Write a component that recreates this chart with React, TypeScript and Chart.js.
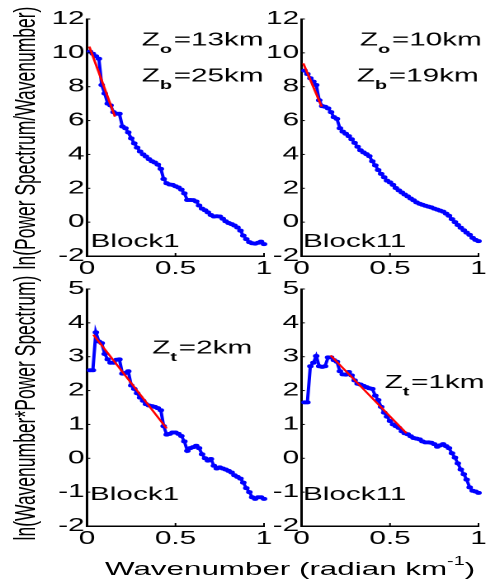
import React, { useEffect, useRef } from "react";
import { Chart, registerables } from "chart.js";

Chart.register(...registerables);

// ---------- data ----------
const WAVENUMBER = [
  0.017, 0.033, 0.05, 0.067, 0.083, 0.1, 0.117, 0.133, 0.15, 0.167,
  0.183, 0.2, 0.217, 0.233, 0.25, 0.267, 0.283, 0.3, 0.317, 0.333,
  0.35, 0.367, 0.383, 0.4, 0.417, 0.433, 0.45, 0.467, 0.483, 0.5,
  0.517, 0.533, 0.55, 0.567, 0.583, 0.6, 0.617, 0.633, 0.65, 0.667,
  0.683, 0.7, 0.717, 0.733, 0.75, 0.767, 0.783, 0.8, 0.817, 0.833,
  0.85, 0.867, 0.883, 0.9, 0.917, 0.933, 0.95, 0.967, 0.983, 1.0,
];

// ln(Power Spectrum / Wavenumber)
const TOP_BLOCK1 = [
  10.07, 9.95, 9.8, 9.65, 8.1, 7.6, 7.0, 6.9, 6.5, 6.4,
  6.4, 5.65, 5.55, 5.3, 4.95, 4.65, 4.4, 4.17, 4.0, 3.88,
  3.72, 3.6, 3.52, 3.4, 3.15, 2.55, 2.3, 2.22, 2.2, 2.12,
  2.05, 1.92, 1.7, 1.31, 1.31, 1.3, 1.22, 0.98, 0.8, 0.7,
  0.58, 0.42, 0.33, 0.35, 0.33, 0.2, 0.05, -0.05, -0.12, -0.2,
  -0.32, -0.5, -0.8, -1.0, -1.18, -1.25, -1.27, -1.22, -1.15, -1.3,
];
const TOP_BLOCK11 = [
  8.95, 8.75, 8.5, 8.3, 8.1, 7.2, 6.85, 6.82, 6.72, 6.5,
  6.2, 6.1, 5.55, 5.35, 5.22, 5.08, 4.9, 4.68, 4.45, 4.25,
  4.12, 4.02, 3.9, 3.6, 3.35, 3.08, 2.85, 2.65, 2.45, 2.35,
  2.2, 2.02, 1.88, 1.75, 1.63, 1.52, 1.4, 1.29, 1.17, 1.09,
  1.03, 0.97, 0.92, 0.87, 0.8, 0.74, 0.68, 0.62, 0.5, 0.38,
  0.18, 0.0, -0.17, -0.33, -0.48, -0.62, -0.75, -0.93, -1.05, -1.12,
];

// ln(Wavenumber * Power Spectrum)
const BOTTOM_BLOCK1 = [
  2.6, 2.6, 3.72, 3.45, 3.4, 3.08, 2.92, 2.82, 2.82, 2.91,
  2.92, 2.5, 2.52, 2.57, 2.15, 2.05, 1.92, 1.79, 1.7, 1.6,
  1.56, 1.54, 1.52, 1.48, 1.42, 0.95, 0.7, 0.72, 0.76, 0.76,
  0.72, 0.66, 0.5, 0.22, 0.3, 0.33, 0.37, 0.3, 0.12, 0.0,
  -0.07, -0.02, -0.22, -0.3, -0.27, -0.3, -0.33, -0.37, -0.42, -0.5,
  -0.55, -0.6, -0.72, -0.88, -1.0, -1.15, -1.2, -1.15, -1.15, -1.2,
];
const BOTTOM_BLOCK11 = [
  1.65, 1.65, 2.72, 2.82, 3.02, 2.72, 2.7, 2.72, 2.98, 2.98,
  2.9, 2.85, 2.57, 2.48, 2.47, 2.55, 2.45, 2.3, 2.2, 2.18,
  2.14, 2.1, 2.07, 2.05, 1.85, 1.72, 1.52, 1.35, 1.23, 1.1,
  1.0, 0.95, 0.9, 0.8, 0.74, 0.71, 0.65, 0.6, 0.58, 0.56,
  0.5, 0.47, 0.47, 0.46, 0.42, 0.34, 0.38, 0.42, 0.36, 0.3,
  0.15, 0.02, -0.15, -0.33, -0.47, -0.63, -0.86, -0.96, -0.98, -1.02,
];

// straight-line fits (red)
const FIT_TOP_BLOCK1_X = [0.013, 0.158];
const FIT_TOP_BLOCK1_Y = [10.37, 6.23];
const FIT_TOP_BLOCK11_X = [0.01, 0.114];
const FIT_TOP_BLOCK11_Y = [9.38, 6.82];
const FIT_BOTTOM_BLOCK1_X = [0.036, 0.45];
const FIT_BOTTOM_BLOCK1_Y = [3.65, 0.88];
const FIT_BOTTOM_BLOCK11_X = [0.164, 0.593];
const FIT_BOTTOM_BLOCK11_Y = [3.04, 0.74];

// ticks
const X_TICKS = [0, 0.5, 1];
const TOP_Y_TICKS = [-2, 0, 2, 4, 6, 8, 10, 12];
const BOTTOM_Y_TICKS = [-2, -1, 0, 1, 2, 3, 4, 5];

// ---------- styling / layout ----------
const STRETCH = 1.65;
const LOGICAL_W = 300;
const PAGE_H = 581;
const FONT = '"Liberation Sans", Arial, Helvetica, sans-serif';
const BLUE = "#0000ff";
const RED = "#ff0000";
const Y_AXIS_W = 40;
const X_AXIS_H = 30;

type Part = { t: string; sub?: boolean };
type Note = { x: number; y: number; parts: Part[] };

function notesPlugin(notes: Note[]) {
  return {
    id: "notes",
    afterDraw(chart: any) {
      const { ctx, scales } = chart;
      ctx.save();
      ctx.fillStyle = "#000";
      ctx.textBaseline = "alphabetic";
      ctx.textAlign = "left";
      notes.forEach((n) => {
        let cx = scales.x.getPixelForValue(n.x);
        const by = scales.y.getPixelForValue(n.y);
        n.parts.forEach((p) => {
          ctx.font = p.sub ? `bold 12px ${FONT}` : `18px ${FONT}`;
          ctx.fillText(p.t, cx, p.sub ? by + 7.5 : by);
          cx += ctx.measureText(p.t).width + (p.sub ? 1 : 0);
        });
      });
      ctx.restore();
    },
  };
}

const inwardTicks = {
  id: "inwardTicks",
  afterDraw(chart: any) {
    const { ctx, chartArea, scales } = chart;
    ctx.save();
    ctx.strokeStyle = "#000";
    ctx.lineWidth = 1;
    scales.x.ticks.forEach((t: any) => {
      const px = scales.x.getPixelForValue(t.value);
      ctx.beginPath();
      ctx.moveTo(px, chartArea.bottom);
      ctx.lineTo(px, chartArea.bottom - 3);
      ctx.stroke();
    });
    scales.y.ticks.forEach((t: any) => {
      const py = scales.y.getPixelForValue(t.value);
      ctx.beginPath();
      ctx.moveTo(chartArea.left, py);
      ctx.lineTo(chartArea.left + 2, py);
      ctx.stroke();
    });
    ctx.restore();
  },
};

type PanelSpec = {
  area: { left: number; right: number; top: number; bottom: number };
  ys: number[];
  fitX: number[];
  fitY: number[];
  yMin: number;
  yMax: number;
  yTicks: number[];
  notes: Note[];
};

function makeConfig(p: PanelSpec): any {
  const tickFont = { family: FONT, size: 18 };
  return {
    type: "line",
    data: {
      datasets: [
        {
          data: p.fitX.map((x, i) => ({ x, y: p.fitY[i] })),
          borderColor: RED,
          borderWidth: 1.5,
          pointRadius: 0,
          fill: false,
          clip: false,
        },
        {
          data: WAVENUMBER.map((x, i) => ({ x, y: p.ys[i] })),
          borderColor: BLUE,
          backgroundColor: BLUE,
          borderWidth: 2,
          pointRadius: 1.5,
          pointBorderWidth: 1,
          pointBorderColor: BLUE,
          pointBackgroundColor: BLUE,
          fill: false,
          clip: false,
        },
      ],
    },
    options: {
      responsive: false,
      animation: false,
      devicePixelRatio: 2,
      events: [],
      layout: {
        autoPadding: false,
        padding: {
          left: p.area.left - Y_AXIS_W,
          right: LOGICAL_W - p.area.right,
          top: p.area.top,
          bottom: PAGE_H - p.area.bottom - X_AXIS_H,
        },
      },
      plugins: { legend: { display: false }, tooltip: { enabled: false } },
      scales: {
        x: {
          type: "linear",
          min: 0,
          max: 1,
          afterBuildTicks: (s: any) => {
            s.ticks = X_TICKS.map((v) => ({ value: v }));
          },
          afterFit: (s: any) => {
            s.height = X_AXIS_H;
          },
          grid: { display: false, drawTicks: false },
          border: { display: true, color: "#000", width: 1.5 },
          ticks: {
            color: "#000",
            font: tickFont,
            padding: 2,
            autoSkip: false,
            maxRotation: 0,
            callback: (v: any) => String(v),
          },
        },
        y: {
          type: "linear",
          min: p.yMin,
          max: p.yMax,
          afterBuildTicks: (s: any) => {
            s.ticks = p.yTicks.map((v) => ({ value: v }));
          },
          afterFit: (s: any) => {
            s.width = Y_AXIS_W;
          },
          grid: { display: false, drawTicks: false },
          border: { display: true, color: "#000", width: 1.5 },
          ticks: {
            color: "#000",
            font: tickFont,
            padding: 1.5,
            autoSkip: false,
            callback: (v: any) => String(v),
          },
        },
      },
    },
    plugins: [inwardTicks, notesPlugin(p.notes)],
  };
}

const LEFT_X = [87 / STRETCH, 264 / STRETCH];
const RIGHT_X = [301.5 / STRETCH, 478.5 / STRETCH];

const PANELS: PanelSpec[] = [
  {
    area: { left: LEFT_X[0], right: LEFT_X[1], top: 19, bottom: 256 },
    ys: TOP_BLOCK1,
    fitX: FIT_TOP_BLOCK1_X,
    fitY: FIT_TOP_BLOCK1_Y,
    yMin: -2,
    yMax: 12,
    yTicks: TOP_Y_TICKS,
    notes: [
      { x: 0.309, y: 10.42, parts: [{ t: "Z" }, { t: "o", sub: true }, { t: "=13km" }] },
      { x: 0.309, y: 8.3, parts: [{ t: "Z" }, { t: "b", sub: true }, { t: "=25km" }] },
      { x: 0.02, y: -1.47, parts: [{ t: "Block1" }] },
    ],
  },
  {
    area: { left: RIGHT_X[0], right: RIGHT_X[1], top: 19, bottom: 256 },
    ys: TOP_BLOCK11,
    fitX: FIT_TOP_BLOCK11_X,
    fitY: FIT_TOP_BLOCK11_Y,
    yMin: -2,
    yMax: 12,
    yTicks: TOP_Y_TICKS,
    notes: [
      { x: 0.33, y: 10.42, parts: [{ t: "Z" }, { t: "o", sub: true }, { t: "=10km" }] },
      { x: 0.313, y: 8.3, parts: [{ t: "Z" }, { t: "b", sub: true }, { t: "=19km" }] },
      { x: 0.008, y: -1.47, parts: [{ t: "Block11" }] },
    ],
  },
  {
    area: { left: LEFT_X[0], right: LEFT_X[1], top: 289, bottom: 526 },
    ys: BOTTOM_BLOCK1,
    fitX: FIT_BOTTOM_BLOCK1_X,
    fitY: FIT_BOTTOM_BLOCK1_Y,
    yMin: -2,
    yMax: 5,
    yTicks: BOTTOM_Y_TICKS,
    notes: [
      { x: 0.369, y: 3.09, parts: [{ t: "Z" }, { t: "t", sub: true }, { t: "=2km" }] },
      { x: 0.017, y: -1.23, parts: [{ t: "Block1" }] },
    ],
  },
  {
    area: { left: RIGHT_X[0], right: RIGHT_X[1], top: 289, bottom: 526 },
    ys: BOTTOM_BLOCK11,
    fitX: FIT_BOTTOM_BLOCK11_X,
    fitY: FIT_BOTTOM_BLOCK11_Y,
    yMin: -2,
    yMax: 5,
    yTicks: BOTTOM_Y_TICKS,
    notes: [
      { x: 0.47, y: 2.08, parts: [{ t: "Z" }, { t: "t", sub: true }, { t: "=1km" }] },
      { x: 0.008, y: -1.23, parts: [{ t: "Block11" }] },
    ],
  },
];

export default function App() {
  const refs = [
    useRef<HTMLCanvasElement>(null),
    useRef<HTMLCanvasElement>(null),
    useRef<HTMLCanvasElement>(null),
    useRef<HTMLCanvasElement>(null),
  ];

  useEffect(() => {
    const charts = PANELS.map((p, i) => new Chart(refs[i].current as HTMLCanvasElement, makeConfig(p)));
    return () => charts.forEach((c) => c.destroy());
  }, []);

  const yTitle: React.CSSProperties = {
    position: "absolute",
    left: 14.8,
    fontFamily: FONT,
    fontSize: "17.5px",
    lineHeight: "18px",
    whiteSpace: "nowrap",
    color: "#000",
    transform: "translate(-50%, -50%) rotate(-90deg)",
  };

  return (
    <div
      style={{
        position: "absolute",
        left: 0,
        top: 0,
        width: LOGICAL_W,
        height: PAGE_H,
        background: "#fff",
        transform: `scaleX(${STRETCH})`,
        transformOrigin: "0 0",
        overflow: "visible",
      }}
    >
      {refs.map((r, i) => (
        <canvas
          key={i}
          ref={r}
          width={LOGICAL_W}
          height={PAGE_H}
          style={{ position: "absolute", left: 0, top: 0, width: LOGICAL_W + "px", height: PAGE_H + "px" }}
        />
      ))}
      <div style={{ ...yTitle, top: 138 }}>ln(Power Spectrum/Wavenumber)</div>
      <div style={{ ...yTitle, top: 408 }}>ln(Wavenumber*Power Spectrum)</div>
      <div
        style={{
          position: "absolute",
          left: 175.8,
          top: 559,
          transform: "translateX(-50%)",
          fontFamily: FONT,
          fontSize: "19px",
          lineHeight: "19px",
          whiteSpace: "nowrap",
          color: "#000",
        }}
      >
        Wavenumber (radian km
        <span style={{ fontSize: "12px", position: "relative", top: "-10px" }}>-1</span>)
      </div>
    </div>
  );
}
